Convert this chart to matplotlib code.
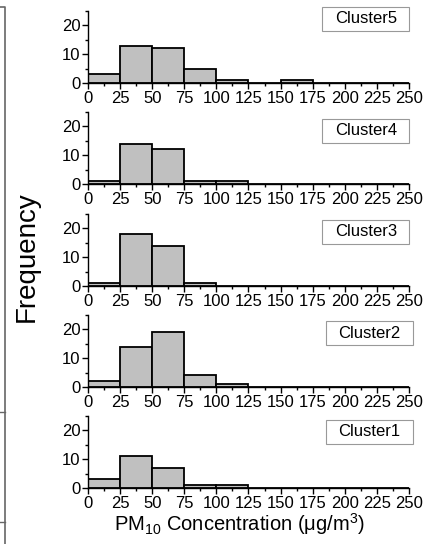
import matplotlib
matplotlib.use('Agg')
import matplotlib.pyplot as plt
from matplotlib.patches import Rectangle
from matplotlib.lines import Line2D
from matplotlib.ticker import MultipleLocator

plt.rcParams['font.family'] = ['Liberation Sans', 'DejaVu Sans']
plt.rcParams['mathtext.fontset'] = 'custom'
plt.rcParams['mathtext.rm'] = 'Liberation Sans'
plt.rcParams['mathtext.it'] = 'Liberation Sans:italic'

# Histogram data, 25 ug/m3 bins from 0 to 250
bin_left = [0, 25, 50, 75, 100, 125, 150, 175, 200, 225]
bin_width = 25
cluster_names = ['Cluster5', 'Cluster4', 'Cluster3', 'Cluster2', 'Cluster1']
cluster5 = [3, 13, 12, 5, 1, 0, 1, 0, 0, 0]
cluster4 = [1, 14, 12, 1, 1, 0, 0, 0, 0, 0]
cluster3 = [1, 18, 14, 1, 0, 0, 0, 0, 0, 0]
cluster2 = [2, 14, 19, 4, 1, 0, 0, 0, 0, 0]
cluster1 = [3, 11, 7, 1, 1, 0, 0, 0, 0, 0]
counts = [cluster5, cluster4, cluster3, cluster2, cluster1]
x_ticks = [0, 25, 50, 75, 100, 125, 150, 175, 200, 225, 250]
y_ticks = [0, 10, 20]

W, H = 431, 544
fig = plt.figure(figsize=(W / 100, H / 100), dpi=100)

# panel layout in pixels (left, right, bottom of each axes)
ax_left, ax_right = 88, 409
ax_bottoms = [83, 184, 286, 387, 488]
ax_height = 72
# label box centres (axes fraction)
box_cx = [0.866, 0.866, 0.866, 0.877, 0.877]
box_cy = [0.89, 0.74, 0.75, 0.75, 0.78]
box_w, box_h = 87 / 321, 24 / 72

for i, (name, vals) in enumerate(zip(cluster_names, counts)):
    ax = fig.add_axes([ax_left / W, 1 - ax_bottoms[i] / H,
                       (ax_right - ax_left) / W, ax_height / H])
    ax.bar(bin_left, vals, width=bin_width, align='edge',
           color='#c0c0c0', edgecolor='black', linewidth=1.3, zorder=2)
    ax.set_xlim(0, 250)
    ax.set_ylim(0, 25)
    ax.set_xticks(x_ticks)
    ax.set_yticks(y_ticks)
    ax.xaxis.set_minor_locator(MultipleLocator(12.5))
    ax.yaxis.set_minor_locator(MultipleLocator(5))
    for s in ['top', 'right']:
        ax.spines[s].set_visible(False)
    for s in ['left', 'bottom']:
        ax.spines[s].set_linewidth(1.0)
    ax.tick_params(which='major', direction='out', length=4, width=1,
                   labelsize=12, pad=1.5)
    ax.tick_params(which='minor', direction='out', length=2.5, width=1)

    # cluster label box
    ax.add_patch(Rectangle((box_cx[i] - box_w / 2, box_cy[i] - box_h / 2),
                           box_w, box_h, transform=ax.transAxes,
                           facecolor='white', edgecolor='#999999',
                           linewidth=0.8, clip_on=False, zorder=3))
    ax.text(box_cx[i], box_cy[i], name, transform=ax.transAxes,
            ha='center', va='center', fontsize=12, zorder=4)

fig.text(27 / W, 1 - 257 / H, 'Frequency', rotation=90,
         ha='center', va='center', fontsize=20)
fig.text(239 / W, 1 - 524 / H, r'PM$_{10}$ Concentration (μg/m$^3$)',
         ha='center', va='center', fontsize=14.5)

# edge of neighbouring panel at left
edge = '#666666'
fig.add_artist(Line2D([0, 5 / W, 5 / W], [1 - 7 / H, 1 - 7 / H, 0],
                      color=edge, linewidth=1.2))
for yy in [412, 522]:
    fig.add_artist(Line2D([0, 5 / W], [1 - yy / H, 1 - yy / H],
                          color=edge, linewidth=1.0))

fig.savefig('out.png', dpi=100)
